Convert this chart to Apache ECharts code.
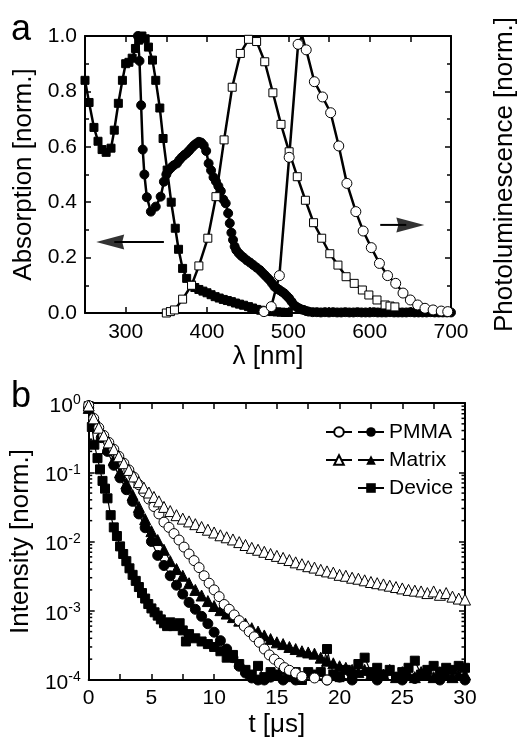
<!DOCTYPE html>
<html>
<head>
<meta charset="utf-8">
<script src="https://cdn.jsdelivr.net/npm/echarts@6/dist/echarts.min.js"></script>
<style>
html, body { margin: 0; padding: 0; background: #fff; }
#tubiao { width: 526px; height: 739px; }
</style>
</head>
<body>
<div id="tubiao"></div>
<script>
// ---- panel a : wavelength [nm] vs normalised absorption / PL ----
var absSquares = [[250,0.84],[255,0.76],[261,0.67],[266,0.62],[271,0.59],[276,0.58],[282,0.595],[286,0.66],[291,0.757],
  [296,0.84],[300,0.90],[304,0.905],[308,0.92],[312,0.955],[316,0.985],[320,1.0],[324,0.99],[328,0.96],[333,0.913],
  [337,0.84],[342,0.74],[346,0.63],[351,0.516],[356,0.40],[361,0.306],[365,0.23],[370,0.161],[375,0.125],[381,0.101],
  [385,0.092],[390,0.085],[395,0.079],[400,0.073],[405,0.066],[410,0.059],[415,0.054],[420,0.049],[425,0.045],
  [430,0.041],[435,0.036],[440,0.032],[445,0.028],[451,0.023],[456,0.018],[461,0.013],[466,0.010],[471,0.007],
  [476,0.006],[481,0.005],[486,0.004],[491,0.003],[496,0.002],[500,0.002]];
var absCircles = [[315,1.0],[317,0.91],[319,0.75],[321,0.59],[323,0.5],[326,0.418],[331,0.366],[337,0.384],[343,0.42],
  [347,0.474],[350,0.50],[353,0.516],[356,0.525],[359,0.533],[363,0.54],[366,0.552],[369,0.562],[372,0.57],[375,0.577],
  [378,0.586],[381,0.596],[384,0.605],[387,0.612],[390,0.618],[393,0.615],[396,0.605],[399,0.585],[402,0.54],[405,0.515],
  [408,0.49],[411,0.475],[414,0.458],[417,0.44],[420,0.41],[423,0.396],[426,0.36],[428,0.324],[430,0.29],[432,0.264],
  [434,0.24],[436,0.227],[439,0.216],[442,0.207],[445,0.2],[449,0.19],[453,0.182],[457,0.173],[461,0.164],[465,0.155],
  [468,0.146],[471,0.137],[474,0.128],[477,0.119],[480,0.107],[483,0.095],[486,0.089],[489,0.083],[492,0.077],
  [495,0.071],[498,0.062],[501,0.053],[504,0.041],[507,0.029],[510,0.022],[513,0.017],[516,0.013],[519,0.011],
  [522,0.007],[525,0.005],[530,0.003],[535,0.003],[540,0.002],[545,0.003],[550,0.002],[555,0.003],[560,0.002],
  [565,0.002],[570,0.003],[575,0.002],[580,0.002],[585,0.003],[590,0.002],[595,0.002],[600,0.002],[605,0.003],
  [610,0.002],[615,0.002],[620,0.002],[625,0.003],[630,0.002],[635,0.002],[640,0.002],[645,0.002],[650,0.003],
  [655,0.002],[660,0.002],[665,0.002],[670,0.002],[675,0.003],[680,0.002],[685,0.002],[690,0.002],[695,0.002],[700,0.002]];
var plSquares = [[350,0.0],[355,0.005],[360,0.011],[370,0.05],[381,0.10],[390,0.17],[401,0.27],[411,0.42],[421,0.625],
  [431,0.815],[441,0.937],[451,0.988],[461,0.98],[471,0.907],[481,0.795],[491,0.681],[501,0.582],[511,0.492],[521,0.407],
  [531,0.326],[541,0.27],[551,0.214],[561,0.173],[571,0.131],[581,0.107],[591,0.083],[599,0.065],[609,0.047],
  [619,0.029],[625,0.025],[631,0.022]];
var plCircles = [[470,0.005],[479,0.023],[489,0.135],[501,0.562],[512,0.97],{value:[517,1.0],symbol:'none'},[522,0.95],
  [532,0.835],[542,0.78],[552,0.723],[562,0.603],[572,0.468],[583,0.366],[592,0.296],[602,0.236],[612,0.179],
  [622,0.135],[632,0.107],[641,0.072],[650,0.047],[659,0.029],[668,0.017],[678,0.011],[688,0.007],[696,0.005]];
var arrowLeftLine = [[347,0.256],[286,0.256]];
var arrowRightLine = [[613,0.318],[645,0.318]];
var arrowLeftHead = [[281,0.256]];
var arrowRightHead = [[650,0.318]];
var tickA = ['300','400','500','600','700'];

// ---- panel b : time [us] vs normalised intensity (log) ----
var pmmaOpen = [[0,0.92],[0.4,0.60],[0.8,0.44],[1.2,0.34],[1.6,0.27],[2.0,0.215],[2.4,0.17],[2.8,0.135],[3.2,0.108],
  [3.6,0.085],[4.0,0.066],[4.4,0.052],[4.8,0.041],[5.2,0.032],[5.6,0.025],[6.0,0.019],[6.4,0.016],[6.8,0.013],
  [7.2,0.0105],[7.6,0.0083],[8.0,0.0066],[8.4,0.0053],[8.8,0.0042],[9.2,0.0032],[9.6,0.0025],[10.0,0.0020],
  [10.4,0.0016],[10.8,0.00123],[11.2,0.00105],[11.6,0.00087],[12.0,0.00072],[12.4,0.0006],[12.8,0.0005],
  [13.2,0.00042],[13.6,0.00035],[14.0,0.00028],[14.4,0.00023],[14.8,0.0002],[15.2,0.000174],[15.6,0.000151],
  [16.0,0.000138],[16.5,0.000126],[17.0,0.000112],[18.0,0.000107],[19.0,0.0001],[20.0,0.000095]];
var matrixOpen = [[0,0.92],[0.4,0.60],[0.8,0.44],[1.2,0.34],[1.6,0.27],[2.0,0.215],[2.4,0.17],[2.8,0.135],[3.2,0.108],
  [3.6,0.087],[4.0,0.072],[4.4,0.060],[4.8,0.051],[5.2,0.044],[5.6,0.038],[6.0,0.0316],[6.5,0.0275],[7.0,0.024],
  [7.5,0.0214],[8.0,0.0195],[8.5,0.0178],[9.0,0.0162],[9.5,0.0148],[10.0,0.0135],[10.5,0.0123],[11.0,0.0115],
  [11.5,0.0107],[12.0,0.0098],[12.5,0.0089],[13.0,0.0081],[13.5,0.0076],[14.0,0.0071],[14.5,0.0066],[15.0,0.0062],
  [15.5,0.0058],[16.0,0.0054],[16.5,0.0050],[17.0,0.0047],[17.5,0.0044],[18.0,0.0042],[18.5,0.0039],[19.0,0.0037],
  [19.5,0.00355],[20.0,0.0033],[20.5,0.0032],[21.0,0.0030],[21.5,0.0029],[22.0,0.00275],[22.5,0.0026],[23.0,0.0025],
  [23.5,0.0024],[24.0,0.0023],[24.5,0.0022],[25.0,0.0021],[25.5,0.0020],[26.0,0.00195],[26.5,0.0019],[27.0,0.0018],
  [27.5,0.0019],[28.0,0.0017],[28.5,0.0018],[29.0,0.0016],[29.5,0.0015],[30.0,0.00145]];
var pmmaFilled = [[0,0.85],[0.5,0.5],[1.0,0.316],[1.5,0.2],[2.0,0.126],[2.5,0.083],[3.0,0.056],[3.5,0.038],[4.0,0.025],
  [4.5,0.0158],[5.0,0.010],[5.5,0.0063],[6.0,0.0045],[6.5,0.0032],[7.0,0.00234],[7.5,0.00174],[8.0,0.00132],
  [8.5,0.00105],[9.0,0.00083],[9.5,0.00065],[10.0,0.00049],[10.5,0.00037],[11.0,0.00028],[11.5,0.00021],
  [12.0,0.000158],[12.5,0.000126],[13.0,0.000107],[13.5,0.0001],[14.0,0.0001],[14.5,0.00011],[15.0,0.000095],
  [15.5,0.0001],[16.0,0.00009],[16.5,0.0001],[17.0,0.000105],[18.0,0.000095],[19.0,0.0001],[20.0,0.00011],
  [21.0,0.0001],[22.0,0.000095],[23.0,0.0001],[24.0,0.00009],[25.0,0.0001],[26.0,0.000105],[27.0,0.00009],
  [28.0,0.0001],[29.0,0.000095],[30.0,0.0001]];
var matrixFilled = [[0,0.85],[0.5,0.5],[1.0,0.33],[1.5,0.224],[2.0,0.151],[2.5,0.1],[3.0,0.069],[3.5,0.047],
  [4.0,0.0316],[4.5,0.021],[5.0,0.0141],[5.5,0.0105],[6.0,0.0076],[6.5,0.0052],[7.0,0.004],[7.5,0.0032],[8.0,0.0025],
  [8.5,0.002],[9.0,0.00166],[9.5,0.00138],[10.0,0.00117],[10.5,0.00102],[11.0,0.00091],[11.5,0.00081],[12.0,0.00072],
  [12.5,0.00065],[13.0,0.00056],[13.5,0.0005],[14.0,0.00044],[14.5,0.00039],[15.0,0.00035],[15.5,0.00033],
  [16.0,0.0003],[16.5,0.00028],[17.0,0.00026],[17.5,0.00025],[18.0,0.00024],[18.5,0.00021],[19.0,0.00019],
  [19.5,0.000174],[20.0,0.000158],[20.5,0.00015],[21.0,0.00014],[21.5,0.00013],[22.0,0.00014],[22.5,0.00012],
  [23.0,0.00013],[23.5,0.00012],[24.0,0.00014],[24.5,0.00011],[25.0,0.00013],[25.5,0.00012],[26.0,0.00011],
  [26.5,0.00013],[27.0,0.00012],[27.5,0.00011],[28.0,0.00013],[28.5,0.00012],[29.0,0.00011],[29.5,0.00012],[30.0,0.00012]];
var device = [[0,0.9],[0.25,0.45],[0.45,0.25],[0.7,0.16],[0.9,0.11],[1.1,0.075],[1.3,0.058],[1.5,0.042],[1.75,0.024],
  [2.0,0.016],[2.25,0.012],[2.5,0.0085],[2.75,0.0066],[3.0,0.0052],[3.25,0.0041],[3.5,0.0033],[3.75,0.0027],
  [4.0,0.0022],[4.25,0.0018],[4.5,0.0015],[4.75,0.00125],[5.0,0.00108],[5.25,0.00095],[5.5,0.00085],[5.75,0.00075],
  [6.0,0.00066],[6.25,0.0006],[6.5,0.00068],[6.75,0.0006],[7.0,0.00062],[7.25,0.00066],[7.5,0.00052],[7.75,0.00036],
  [8.0,0.00046],[8.5,0.0004],[9.0,0.00036],[9.5,0.00033],[10.0,0.0003],[10.5,0.00026],[11.0,0.00021],[11.5,0.00023],
  [12.0,0.00017],[12.5,0.00014],[13.0,0.00012],[13.5,0.00016],[14.0,0.00011],[14.5,0.00013],[15.0,0.00012],
  [15.5,0.00014],[16.0,0.00011],[16.5,0.00013],[17.0,0.0001],[17.5,0.00013],[18.0,0.00012],[18.5,0.00013],
  [19.0,0.00028],[19.5,0.00012],[20.0,0.00011],[20.5,0.00014],[21.0,0.00012],[21.5,0.00017],[22.0,0.00021],
  [22.5,0.00013],[23.0,0.00015],[23.5,0.00012],[24.0,0.00014],[24.5,0.00011],[25.0,0.00013],[25.5,0.00015],
  [26.0,0.00019],[26.5,0.00012],[27.0,0.00014],[27.5,0.00016],[28.0,0.00013],[28.5,0.00015],[29.0,0.00014],
  [29.5,0.00016],[30.0,0.00015]];
var logMinor = [2e-4,3e-4,4e-4,5e-4,6e-4,7e-4,8e-4,9e-4,2e-3,3e-3,4e-3,5e-3,6e-3,7e-3,8e-3,9e-3,
  2e-2,3e-2,4e-2,5e-2,6e-2,7e-2,8e-2,9e-2,0.2,0.3,0.4,0.5,0.6,0.7,0.8,0.9];

var FONT = '"Liberation Sans", Arial, Helvetica, sans-serif';
var myChart = echarts.init(document.getElementById('tubiao'));

function lineSeries(name, data, symbol, size, open, xi, yi, lw) {
  return {
    name: name, type: 'line', data: data, xAxisIndex: xi, yAxisIndex: yi,
    symbol: symbol, symbolSize: size, showSymbol: true, showAllSymbol: true,
    lineStyle: { color: '#000', width: lw },
    itemStyle: open ? { color: '#fff', borderColor: '#000', borderWidth: 1 } : { color: '#000', borderColor: '#000' },
    emphasis: { disabled: true }, silent: true, z: open ? 3 : 2
  };
}
function frameAxis(pos, grid, extra) {
  var ax = {
    gridIndex: grid, position: pos,
    axisLine: { show: true, onZero: false, lineStyle: { color: '#000', width: 2 } },
    axisTick: { show: true, inside: true, length: 6, lineStyle: { color: '#000', width: 1.5 } },
    axisLabel: { show: false, color: '#000', fontSize: 21, fontFamily: FONT },
    splitLine: { show: false },
    nameTextStyle: { color: '#000', fontSize: 26, fontFamily: FONT }
  };
  for (var k in extra) ax[k] = extra[k];
  return ax;
}
function logLabel(v) {
  var e = Math.round(Math.log(v) / Math.LN10);
  return '{b|10}{s|' + e + '}';
}
var logRich = {
  b: { fontSize: 21, fontFamily: FONT, color: '#000', padding: [6, 0, 0, 0] },
  s: { fontSize: 14, fontFamily: FONT, color: '#000', padding: [0, 0, 5, 0] }
};

var option = {
  animation: false,
  backgroundColor: '#fff',
  title: [
    { text: 'a', left: 11, top: 12, padding: 0, textStyle: { fontSize: 36, fontWeight: 'normal', fontFamily: FONT, color: '#000' } },
    { text: 'b', left: 11, top: 379, padding: 0, textStyle: { fontSize: 36, fontWeight: 'normal', fontFamily: FONT, color: '#000' } }
  ],
  grid: [
    { left: 85, top: 36, width: 380, height: 277 },
    { left: 86, top: 403, width: 379, height: 278 }
  ],
  legend: [
    { data: ['PMMA', 'Matrix', 'Device'], left: 357, top: 420, orient: 'vertical', align: 'left', padding: 0,
      itemWidth: 26, itemHeight: 12, itemGap: 4, selectedMode: false,
      textStyle: { fontSize: 21, fontFamily: FONT, color: '#000', lineHeight: 24 } },
    { data: ['PMMA ', 'Matrix '], left: 325, top: 420, orient: 'vertical', align: 'left', padding: 0,
      itemWidth: 26, itemHeight: 12, itemGap: 4, selectedMode: false,
      formatter: function () { return ' '; },
      textStyle: { fontSize: 21, fontFamily: FONT, color: '#000', lineHeight: 24 } }
  ],
  xAxis: [
    frameAxis('bottom', 0, { type: 'value', min: 250, max: 700, interval: 50, name: 'λ [nm]',
      nameLocation: 'middle', nameGap: 31,
      axisLabel: { show: true, margin: 9, color: '#000', fontSize: 21, fontFamily: FONT,
        formatter: function (v) { return tickA.indexOf(String(v)) >= 0 ? String(v) : ''; } } }),
    frameAxis('top', 0, { type: 'value', min: 250, max: 700, interval: 50 }),
    frameAxis('bottom', 1, { type: 'value', min: 0, max: 30, interval: 5, name: 't [μs]',
      nameLocation: 'middle', nameGap: 32,
      minorTick: { show: true, splitNumber: 2, length: 6, lineStyle: { color: '#000', width: 1.5 } },
      axisLabel: { show: true, margin: 8, color: '#000', fontSize: 21, fontFamily: FONT } }),
    frameAxis('top', 1, { type: 'value', min: 0, max: 30, interval: 5,
      minorTick: { show: true, splitNumber: 2, length: 6, lineStyle: { color: '#000', width: 1.5 } } })
  ],
  yAxis: [
    frameAxis('left', 0, { type: 'value', min: 0, max: 1, interval: 0.2, name: 'Absorption [norm.]',
      nameLocation: 'middle', nameGap: 46,
      minorTick: { show: true, splitNumber: 2, length: 4, lineStyle: { color: '#000', width: 1.5 } },
      axisLabel: { show: true, margin: 8, color: '#000', fontSize: 21, fontFamily: FONT,
        formatter: function (v) { return v.toFixed(1); } } }),
    frameAxis('right', 0, { type: 'value', min: 0, max: 1, interval: 0.2, name: 'Photoluminescence [norm.]',
      nameLocation: 'middle', nameGap: 41,
      minorTick: { show: true, splitNumber: 2, length: 4, lineStyle: { color: '#000', width: 1.5 } } }),
    frameAxis('left', 1, { type: 'log', logBase: 10, min: 0.0001, max: 1, name: 'Intensity [norm.]',
      nameLocation: 'middle', nameGap: 46,
      axisLabel: { show: true, margin: 8, formatter: logLabel, rich: logRich } }),
    frameAxis('right', 1, { type: 'log', logBase: 10, min: 0.0001, max: 1 })
  ],
  series: [
    lineSeries('absSq', absSquares, 'rect', 8, false, 0, 0, 2.5),
    lineSeries('absCirc', absCircles, 'circle', 9, false, 0, 0, 2.5),
    lineSeries('plSq', plSquares, 'rect', 8, true, 0, 0, 2.5),
    lineSeries('plCirc', plCircles, 'circle', 10, true, 0, 0, 2.5),
    { type: 'line', data: arrowLeftLine, symbol: 'none', silent: true, lineStyle: { color: '#000', width: 2 } },
    { type: 'line', data: arrowRightLine, symbol: 'none', silent: true, lineStyle: { color: '#000', width: 2 } },
    { type: 'scatter', data: arrowLeftHead, silent: true, symbol: 'path://M0,5 L28,0 L26,5 L28,10 Z',
      symbolSize: [28, 15], itemStyle: { color: '#000' } },
    { type: 'scatter', data: arrowRightHead, silent: true, symbol: 'path://M28,5 L0,0 L2,5 L0,10 Z',
      symbolSize: [28, 15], itemStyle: { color: '#000' } },

    lineSeries('PMMA', pmmaFilled, 'circle', 10, false, 2, 2, 1.2),
    lineSeries('Matrix', matrixFilled, 'triangle', 11, false, 2, 2, 1.2),
    lineSeries('Device', device, 'rect', 9, false, 2, 2, 1.2),
    lineSeries('PMMA ', pmmaOpen, 'circle', 10, true, 2, 2, 1.2),
    lineSeries('Matrix ', matrixOpen, 'triangle', 11, true, 2, 2, 1.2),
    {
      type: 'custom', xAxisIndex: 2, yAxisIndex: 2, silent: true, clip: false,
      data: logMinor.map(function (v) { return [0, v]; }),
      renderItem: function (params, api) {
        var l = api.coord([0, api.value(1)]);
        var r = api.coord([30, api.value(1)]);
        return { type: 'group', children: [
          { type: 'line', shape: { x1: l[0], y1: l[1], x2: l[0] + 3.5, y2: l[1] }, style: { stroke: '#000', lineWidth: 1.5 } },
          { type: 'line', shape: { x1: r[0] - 3.5, y1: r[1], x2: r[0], y2: r[1] }, style: { stroke: '#000', lineWidth: 1.5 } }
        ] };
      }
    }
  ]
};
myChart.setOption(option);
</script>
</body>
</html>
